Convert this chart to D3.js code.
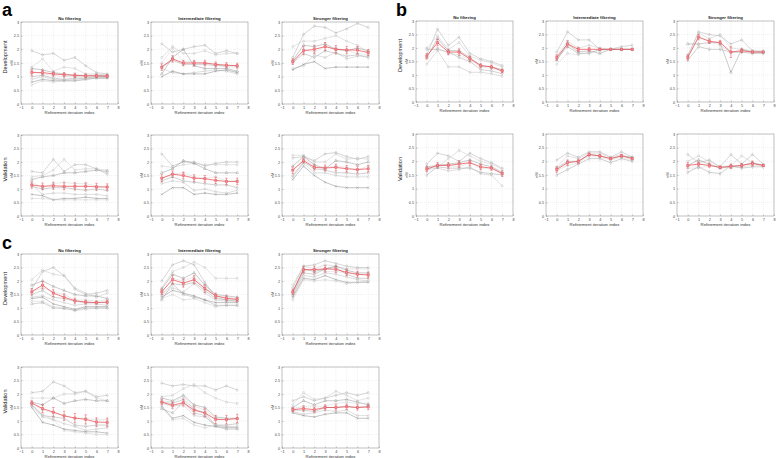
<!DOCTYPE html>
<html><head><meta charset="utf-8">
<script src="https://cdn.jsdelivr.net/npm/d3@7"></script>
<style>body{margin:0;background:#fff} svg text{font-family:"Liberation Sans",Arial,sans-serif}</style>
</head><body><svg id="chart" width="778" height="458"></svg>
<script>
// ---------- DATA ----------
const iterations = [0,1,2,3,4,5,6,7];
const xTicks = [-1,0,1,2,3,4,5,6,7,8];
const yTicks = [0,0.5,1,1.5,2,2.5,3];
const filterTitles = ["No filtering","Intermediate filtering","Stronger filtering"];
const rowLabels = ["Development","Validation"];
const panelLetters = ["a","b","c"];
const yUnit = "nM";
const xLabel = "Refinement iteration index";

// a – development
const aDevNo = [[1.95,1.8,1.85,1.6,1.7,1.4,1.15,1.1],[1.35,1.65,1.2,1.35,1.3,1.1,1.1,1.05],[1.3,1.25,1.15,1.1,1.05,1.05,1.05,1.05],[1.2,1.1,1.05,1.0,1.0,1.0,1.0,1.0],[1.0,1.05,0.95,0.9,0.95,0.95,1.0,1.0],[0.9,1.0,0.9,0.88,0.9,0.95,0.95,0.95],[0.8,0.9,0.85,0.85,0.85,0.9,0.95,0.95],[0.7,0.85,0.8,0.85,0.85,0.9,0.95,0.95]];
const aDevNoMean = [1.15,1.15,1.1,1.07,1.05,1.03,1.03,1.02];
const aDevNoErr = [0.1,0.09,0.08,0.08,0.08,0.07,0.06,0.06];
const aDevInt = [[2.2,1.9,2.0,2.1,2.15,1.85,1.95,1.85],[1.7,2.1,1.85,1.85,1.95,1.8,1.85,1.85],[1.1,1.7,2.0,1.4,1.3,1.3,1.3,1.2],[1.5,2.05,1.55,1.55,1.5,1.45,1.35,1.35],[1.35,1.6,1.45,1.45,1.45,1.4,1.4,1.4],[1.3,1.15,1.1,1.15,1.2,1.25,1.2,1.1],[1.0,1.2,1.1,1.1,1.1,1.2,1.25,1.15]];
const aDevIntMean = [1.35,1.65,1.5,1.5,1.5,1.45,1.42,1.4];
const aDevIntErr = [0.12,0.12,0.1,0.1,0.1,0.09,0.09,0.09];
const aDevStr = [[1.7,2.55,2.85,2.8,2.6,2.75,2.95,2.8],[2.1,2.3,2.3,2.4,2.5,2.3,2.15,1.9],[1.6,2.15,2.1,2.2,2.0,1.95,2.05,1.95],[1.55,2.0,1.9,2.1,2.05,1.95,1.85,1.8],[1.5,1.85,1.7,1.95,1.85,1.75,1.8,1.7],[1.3,1.4,1.8,1.7,1.9,1.65,1.75,1.75],[1.25,1.45,1.55,1.3,1.35,1.35,1.35,1.35]];
const aDevStrMean = [1.55,1.95,2.0,2.1,2.0,1.98,1.97,1.88];
const aDevStrErr = [0.1,0.15,0.15,0.15,0.14,0.13,0.13,0.11];
// a – validation
const aValNo = [[1.65,1.6,2.1,1.65,1.9,1.9,1.75,1.55],[1.45,1.5,1.7,2.1,1.7,1.75,1.75,1.7],[1.35,1.45,1.5,1.6,1.6,1.65,1.7,1.65],[1.25,1.05,1.2,1.25,1.2,1.2,1.1,1.1],[1.1,1.0,1.05,1.05,1.0,0.95,1.0,0.95],[1.15,0.8,0.85,0.85,0.8,0.8,0.8,0.75],[0.8,0.75,0.6,0.65,0.65,0.7,0.65,0.65],[0.65,0.65,0.6,0.6,0.6,0.6,0.6,0.6]];
const aValNoMean = [1.15,1.1,1.12,1.1,1.1,1.1,1.08,1.07];
const aValNoErr = [0.12,0.12,0.13,0.13,0.13,0.13,0.13,0.12];
const aValInt = [[2.3,1.85,2.0,2.0,1.85,1.95,2.0,2.0],[1.85,1.8,1.9,1.95,1.9,1.9,1.9,1.9],[1.6,1.75,2.05,1.95,1.75,1.6,1.6,1.6],[1.4,1.55,1.6,1.45,1.4,1.45,1.3,1.3],[1.3,1.45,1.3,1.25,1.2,1.15,1.15,1.05],[1.2,1.3,1.25,0.95,1.0,0.9,0.85,0.95],[0.8,1.05,1.05,0.8,0.85,0.8,0.8,0.85]];
const aValIntMean = [1.4,1.55,1.5,1.4,1.38,1.32,1.28,1.28];
const aValIntErr = [0.13,0.12,0.12,0.13,0.12,0.12,0.12,0.12];
const aValStr = [[2.15,2.2,2.05,2.3,2.35,2.2,2.1,2.2],[2.25,2.25,2.0,2.0,2.3,2.1,2.15,2.1],[1.85,2.2,1.9,1.75,2.05,2.0,1.9,2.0],[1.7,2.1,1.85,1.8,1.85,1.8,1.7,1.85],[1.5,2.0,1.75,1.7,1.6,1.6,1.55,1.6],[1.45,1.95,1.6,1.6,1.5,1.45,1.45,1.45],[1.35,1.85,1.5,1.25,1.1,1.05,1.05,1.05]];
const aValStrMean = [1.7,2.05,1.8,1.78,1.8,1.75,1.72,1.75];
const aValStrErr = [0.12,0.08,0.1,0.11,0.12,0.12,0.12,0.12];

// b – development
const bDevNo = [[1.75,2.7,2.1,2.4,1.8,1.6,1.5,1.35],[2.0,2.45,1.95,2.2,1.7,1.55,1.45,1.3],[1.65,2.35,1.9,1.9,1.65,1.35,1.3,1.2],[1.6,2.0,1.8,1.75,1.55,1.3,1.25,1.15],[1.95,1.95,1.85,1.65,1.5,1.2,1.15,1.05],[1.4,1.9,1.3,1.3,1.1,1.1,1.05,0.95]];
const bDevNoMean = [1.7,2.2,1.85,1.85,1.6,1.35,1.3,1.15];
const bDevNoErr = [0.1,0.12,0.1,0.12,0.1,0.08,0.07,0.06];
const bDevInt = [[1.85,2.6,2.3,2.3,1.95,1.95,2.05,2.1],[1.7,2.25,2.0,2.1,2.0,1.95,1.95,1.95],[1.55,2.15,1.85,1.9,1.8,1.95,1.95,1.95],[1.4,1.8,1.75,1.85,1.9,1.95,1.95,1.95],[1.6,2.05,1.8,1.8,1.95,1.95,1.95,1.95]];
const bDevIntMean = [1.65,2.15,1.95,1.95,1.95,1.95,1.95,1.95];
const bDevIntErr = [0.1,0.12,0.08,0.07,0.04,0.02,0.03,0.03];
const bDevStr = [[1.7,2.6,2.5,2.45,2.15,2.3,1.9,1.85],[1.75,2.55,2.35,2.5,2.0,1.95,1.9,1.9],[2.15,2.15,2.2,2.2,1.1,1.95,1.85,1.85],[1.65,2.45,2.25,2.1,1.85,1.85,1.85,1.85],[1.55,2.05,1.95,1.95,1.85,1.85,1.8,1.8]];
const bDevStrMean = [1.65,2.4,2.25,2.2,1.85,1.9,1.85,1.85];
const bDevStrErr = [0.1,0.1,0.08,0.08,0.2,0.07,0.03,0.03];
// b – validation
const bValNo = [[1.9,2.3,2.2,2.0,2.3,2.1,1.95,1.75],[1.75,1.8,2.1,2.4,2.2,2.0,1.9,1.7],[1.8,1.85,1.9,1.95,2.05,1.9,1.8,1.6],[1.65,1.9,1.85,1.8,1.95,1.75,1.75,1.55],[1.5,1.8,1.75,1.75,1.75,1.6,1.55,1.5],[1.7,1.75,1.65,1.7,1.8,1.55,1.5,1.1]];
const bValNoMean = [1.72,1.85,1.85,1.9,1.95,1.8,1.75,1.55];
const bValNoErr = [0.1,0.1,0.1,0.12,0.1,0.1,0.08,0.1];
const bValInt = [[2.05,2.3,2.15,2.35,2.35,2.15,2.35,2.15],[1.8,2.2,2.1,2.3,2.3,2.15,2.25,2.1],[1.75,2.0,2.0,2.25,2.2,2.1,2.2,2.15],[1.65,1.85,1.95,2.2,2.15,2.05,2.15,2.05],[1.5,1.7,1.9,2.1,2.1,1.95,2.1,2.0]];
const bValIntMean = [1.7,1.95,2.0,2.25,2.2,2.1,2.2,2.1];
const bValIntErr = [0.1,0.1,0.08,0.05,0.05,0.04,0.05,0.04];
const bValStr = [[2.25,1.95,2.05,1.8,2.25,1.9,2.25,1.9],[2.0,2.2,2.0,1.8,1.85,2.2,1.95,1.85],[1.85,2.05,1.9,1.75,1.8,1.85,1.95,1.85],[1.75,1.75,1.85,1.8,1.75,1.8,1.85,1.85],[1.6,1.8,1.6,1.55,1.85,1.75,1.8,1.8]];
const bValStrMean = [1.85,1.9,1.85,1.78,1.82,1.85,1.92,1.85];
const bValStrErr = [0.1,0.08,0.07,0.05,0.08,0.07,0.09,0.03];

// c – development
const cDevNo = [[1.7,2.35,2.5,2.2,1.7,1.5,1.55,1.65],[2.05,2.4,2.25,2.2,1.75,1.55,1.4,1.55],[1.85,2.0,1.8,1.65,1.5,1.45,1.45,1.35],[1.6,1.75,1.6,1.5,1.3,1.3,1.25,1.3],[1.5,1.65,1.4,1.35,1.25,1.2,1.2,1.2],[1.4,1.45,1.3,1.2,1.1,1.15,1.15,1.1],[1.35,1.4,1.15,1.05,0.95,1.05,1.05,1.05],[1.25,1.25,1.05,1.0,0.9,0.95,1.0,1.0],[1.15,1.2,1.0,0.98,0.92,1.0,1.0,1.0]];
const cDevNoMean = [1.6,1.85,1.55,1.4,1.27,1.22,1.2,1.22];
const cDevNoErr = [0.12,0.14,0.13,0.12,0.1,0.07,0.06,0.07];
const cDevInt = [[2.0,2.6,2.75,2.6,1.95,1.4,1.3,1.25],[1.75,2.35,2.5,2.7,2.5,2.1,2.1,2.1],[1.7,2.25,2.1,2.3,1.85,1.5,1.45,1.4],[1.6,2.1,2.0,2.15,1.75,1.45,1.4,1.35],[1.5,1.9,1.85,1.95,1.65,1.35,1.3,1.3],[1.45,1.75,1.6,1.9,1.55,1.3,1.25,1.25],[1.4,1.65,1.55,1.45,1.3,1.2,1.2,1.2],[1.35,1.5,1.3,1.35,1.2,1.05,1.1,1.1],[1.3,1.9,1.5,1.4,1.3,1.1,1.1,1.1]];
const cDevIntMean = [1.6,2.05,1.92,2.05,1.72,1.45,1.36,1.32];
const cDevIntErr = [0.1,0.15,0.15,0.15,0.14,0.1,0.09,0.08];
const cDevStr = [[1.75,2.55,2.6,2.75,2.65,2.55,2.5,2.5],[1.85,2.55,2.45,2.6,2.55,2.45,2.45,2.45],[1.6,2.45,2.35,2.45,2.55,2.4,2.3,2.3],[1.55,2.35,2.45,2.35,2.35,2.3,2.25,2.25],[1.5,2.3,2.25,2.45,2.5,2.25,2.1,2.1],[1.45,2.2,2.15,2.3,2.25,2.15,2.05,2.0],[1.4,2.1,2.05,2.2,2.05,1.95,1.95,1.95],[1.3,2.05,2.0,2.05,2.0,1.9,1.95,2.0]];
const cDevStrMean = [1.6,2.42,2.42,2.45,2.43,2.32,2.25,2.22];
const cDevStrErr = [0.1,0.12,0.12,0.12,0.12,0.12,0.11,0.11];
// c – validation
const cValNo = [[2.05,2.1,2.45,2.3,2.05,2.1,1.9,1.95],[1.85,1.85,1.85,2.0,2.0,2.1,1.85,1.75],[1.7,1.6,1.85,1.65,1.75,1.8,1.75,1.75],[1.65,1.4,1.3,1.2,1.1,1.1,1.05,1.05],[1.6,1.2,1.15,1.1,0.85,0.8,0.85,0.85],[1.55,1.15,1.05,0.9,0.8,0.65,0.7,0.75],[1.5,0.95,0.85,0.7,0.65,0.6,0.6,0.55],[1.6,1.25,1.05,0.65,0.6,0.55,0.5,0.5]];
const cValNoMean = [1.67,1.46,1.33,1.19,1.11,1.06,0.96,0.95];
const cValNoErr = [0.08,0.15,0.17,0.17,0.17,0.17,0.16,0.16];
const cValInt = [[2.4,2.3,2.35,2.3,2.3,2.15,2.3,2.15],[1.9,1.95,2.2,2.35,2.05,1.85,1.7,1.65],[1.85,1.75,1.95,1.6,1.5,1.15,1.1,1.1],[1.75,1.7,1.9,1.55,1.4,1.1,1.1,1.1],[1.7,1.65,1.8,1.45,1.3,0.85,0.85,0.9],[1.65,1.55,1.6,1.2,1.15,0.85,0.8,0.8],[1.55,1.1,1.2,0.95,0.85,0.8,0.75,0.75],[1.5,1.05,1.1,0.85,0.75,0.85,0.8,0.75],[1.45,1.3,1.7,1.3,1.2,0.8,0.7,0.7]];
const cValIntMean = [1.7,1.58,1.68,1.4,1.3,1.06,1.05,1.09];
const cValIntErr = [0.1,0.12,0.13,0.15,0.15,0.15,0.16,0.16];
const cValStr = [[1.75,1.9,1.75,1.85,1.95,2.05,1.95,2.05],[1.6,2.05,1.8,1.85,2.1,1.95,1.75,1.85],[1.5,1.75,1.6,1.75,1.75,1.8,1.7,1.6],[1.45,1.55,1.55,1.55,1.65,1.7,1.65,1.65],[1.4,1.4,1.35,1.5,1.5,1.55,1.5,1.55],[1.35,1.25,1.3,1.4,1.35,1.4,1.2,1.2],[1.3,1.2,1.15,1.25,1.3,1.3,1.1,1.1]];
const cValStrMean = [1.42,1.46,1.42,1.5,1.5,1.53,1.5,1.52];
const cValStrErr = [0.07,0.1,0.09,0.1,0.1,0.1,0.1,0.1];

// ---------- LAYOUT ----------
const panelW = 97;
const groups = [
  {letter: panelLetters[0], lx: 2, ly: 16, lefts: [21,151,282], rows: [[22,104],[135,216]],
   data: [[[aDevNo,aDevNoMean,aDevNoErr],[aDevInt,aDevIntMean,aDevIntErr],[aDevStr,aDevStrMean,aDevStrErr]],
          [[aValNo,aValNoMean,aValNoErr],[aValInt,aValIntMean,aValIntErr],[aValStr,aValStrMean,aValStrErr]]]},
  {letter: panelLetters[1], lx: 396, ly: 16, lefts: [416,546,677], rows: [[21,102],[134,216]],
   data: [[[bDevNo,bDevNoMean,bDevNoErr],[bDevInt,bDevIntMean,bDevIntErr],[bDevStr,bDevStrMean,bDevStrErr]],
          [[bValNo,bValNoMean,bValNoErr],[bValInt,bValIntMean,bValIntErr],[bValStr,bValStrMean,bValStrErr]]]},
  {letter: panelLetters[2], lx: 2, ly: 249, lefts: [21,151,282], rows: [[254,335],[367,448]],
   data: [[[cDevNo,cDevNoMean,cDevNoErr],[cDevInt,cDevIntMean,cDevIntErr],[cDevStr,cDevStrMean,cDevStrErr]],
          [[cValNo,cValNoMean,cValNoErr],[cValInt,cValIntMean,cValIntErr],[cValStr,cValStrMean,cValStrErr]]]}
];

const greys = ["#a6a6a6","#c2c2c2","#8a8a8a","#cfcfcf","#9a9a9a","#b8b8b8","#7c7c7c","#c8c8c8","#a0a0a0"];
const symTypes = [d3.symbolCircle,d3.symbolSquare,d3.symbolTriangle,d3.symbolCross,d3.symbolDiamond,d3.symbolCircle,d3.symbolTimes,d3.symbolSquare,d3.symbolTriangle];
const red = "#e8434b";

const svg = d3.select("#chart");

groups.forEach(g => {
  svg.append("text").attr("x", g.lx).attr("y", g.ly).attr("font-size", 18).attr("font-weight", "bold").text(g.letter);
  g.rows.forEach((rr, ri) => {
    const [top, bottom] = rr;
    g.lefts.forEach((left, ci) => {
      const [lines, mean, err] = g.data[ri][ci];
      const x = d3.scaleLinear().domain([-1, 8]).range([left, left + panelW]);
      const y = d3.scaleLinear().domain([0, 3]).range([bottom, top]);
      const p = svg.append("g");
      p.selectAll(".gx").data(xTicks).join("line")
        .attr("x1", d => x(d)).attr("x2", d => x(d)).attr("y1", top).attr("y2", bottom)
        .attr("stroke", "#dcdcdc").attr("stroke-width", 0.4).attr("stroke-dasharray", "1,1");
      p.selectAll(".gy").data(yTicks).join("line")
        .attr("y1", d => y(d)).attr("y2", d => y(d)).attr("x1", left).attr("x2", left + panelW)
        .attr("stroke", "#dcdcdc").attr("stroke-width", 0.4).attr("stroke-dasharray", "1,1");
      const ax = p.append("g").attr("transform", `translate(0,${bottom})`)
        .call(d3.axisBottom(x).tickValues(xTicks).tickSize(-1.5).tickPadding(2).tickFormat(d3.format("d")));
      const ay = p.append("g").attr("transform", `translate(${left},0)`)
        .call(d3.axisLeft(y).tickValues(yTicks).tickSize(-1.5).tickPadding(2).tickFormat(d => String(d)));
      [ax, ay].forEach(a => {
        a.select(".domain").remove();
        a.selectAll("line").attr("stroke", "#777").attr("stroke-width", 0.4);
        a.selectAll("text").attr("font-size", 3.8).attr("fill", "#444")
          .attr("font-family", "'Liberation Sans',Arial,sans-serif");
      });
      p.append("rect").attr("x", left).attr("y", top).attr("width", panelW).attr("height", bottom - top)
        .attr("fill", "none").attr("stroke", "#8a8a8a").attr("stroke-width", 0.5);
      p.append("text").attr("x", left + panelW / 2).attr("y", bottom + 10).attr("text-anchor", "middle")
        .attr("font-size", 4.3).attr("fill", "#333").text(xLabel);
      p.append("text").attr("transform", `translate(${left - 8},${(top + bottom) / 2}) rotate(-90)`)
        .attr("text-anchor", "middle").attr("font-size", 3.8).attr("fill", "#333").text(yUnit);
      if (ci === 0) {
        p.append("text").attr("transform", `translate(${left - 14},${(top + bottom) / 2 - 6}) rotate(-90)`)
          .attr("text-anchor", "middle").attr("font-size", 5.6).attr("fill", "#222").text(rowLabels[ri]);
      }
      if (ri === 0) {
        p.append("text").attr("x", left + panelW / 2).attr("y", top - 2).attr("text-anchor", "middle")
          .attr("font-size", 4.3).attr("font-weight", "bold").attr("fill", "#222").text(filterTitles[ci]);
      }
      const line = d3.line().x((d, i) => x(iterations[i])).y(d => y(d));
      lines.forEach((vals, li) => {
        const col = greys[li % greys.length];
        p.append("path").datum(vals).attr("d", line).attr("fill", "none")
          .attr("stroke", col).attr("stroke-width", 0.45);
        p.selectAll(null).data(vals).join("path")
          .attr("transform", (d, i) => `translate(${x(iterations[i])},${y(d)})`)
          .attr("d", d3.symbol().type(symTypes[li % symTypes.length]).size(3.5))
          .attr("fill", "none").attr("stroke", col).attr("stroke-width", 0.35);
      });
      p.append("path").datum(mean).attr("d", line).attr("fill", "none").attr("stroke", red).attr("stroke-width", 0.7);
      const eb = p.selectAll(null).data(mean).join("g");
      eb.append("line").attr("x1", (d, i) => x(iterations[i])).attr("x2", (d, i) => x(iterations[i]))
        .attr("y1", (d, i) => y(d - err[i])).attr("y2", (d, i) => y(d + err[i]))
        .attr("stroke", red).attr("stroke-width", 0.45);
      [-1, 1].forEach(s => {
        eb.append("line").attr("x1", (d, i) => x(iterations[i]) - 1.2).attr("x2", (d, i) => x(iterations[i]) + 1.2)
          .attr("y1", (d, i) => y(d + s * err[i])).attr("y2", (d, i) => y(d + s * err[i]))
          .attr("stroke", red).attr("stroke-width", 0.45);
      });
      eb.append("path").attr("transform", (d, i) => `translate(${x(iterations[i])},${y(d)})`)
        .attr("d", d3.symbol().type(d3.symbolSquare).size(4.5)).attr("fill", "#f29a9e").attr("stroke", red).attr("stroke-width", 0.45);
    });
  });
});
</script></body></html>
